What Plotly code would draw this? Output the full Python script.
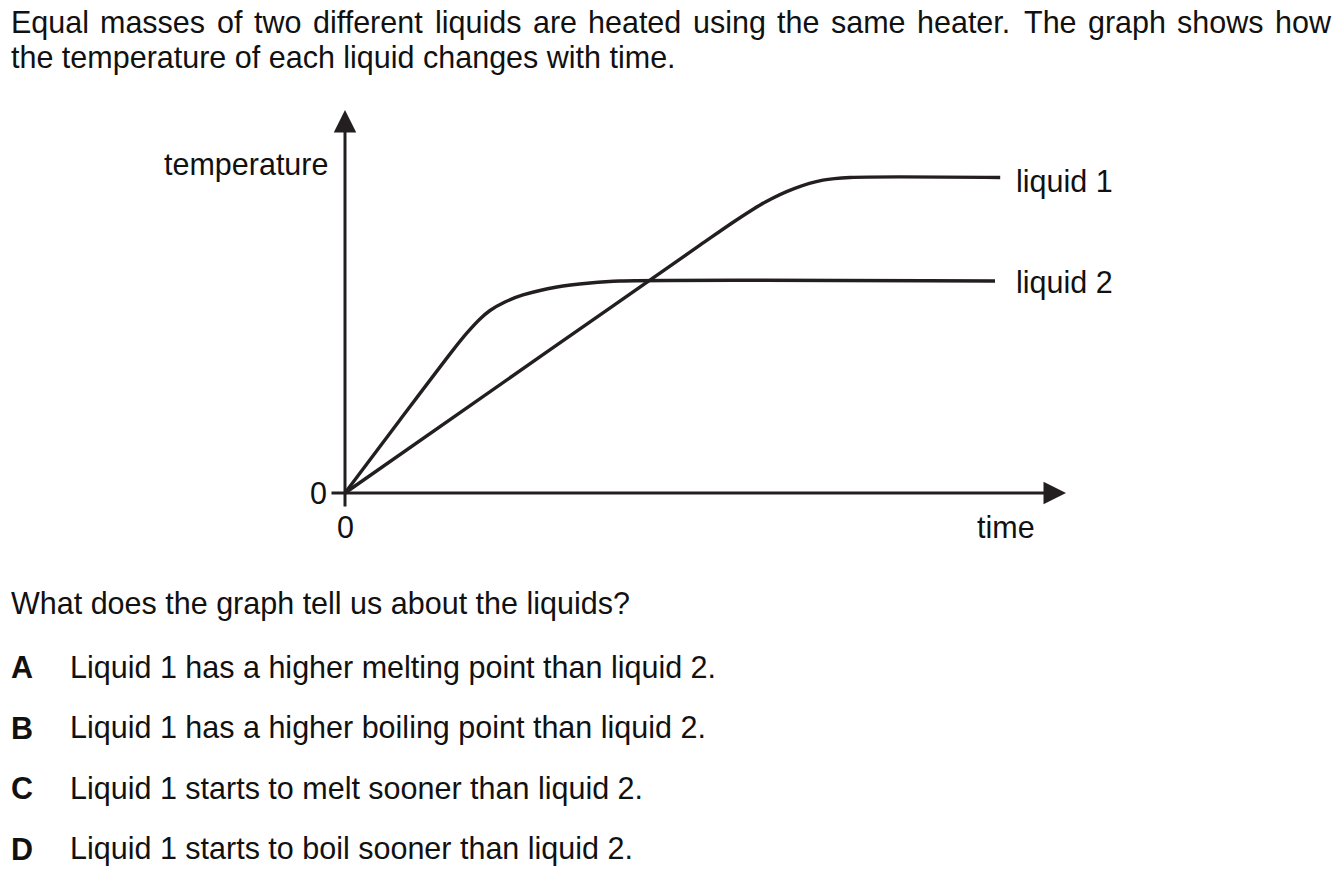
import plotly.graph_objects as go

# ---- data (time, temperature in arbitrary units) ----
liquid1_time = [0, 27.8, 49.3, 54.17, 58.39, 62.47, 66.38, 70.14, 91.0]
liquid1_temp = [0, 36.5, 64.7, 71.02, 75.98, 79.53, 81.67, 82.38, 82.38]
liquid2_time = [0, 7.6, 15.0, 16.94, 18.75, 20.14, 22.22, 24.72, 29.44, 34.03, 38.19, 90.28]
liquid2_temp = [0, 19.0, 37.3, 41.78, 45.43, 47.65, 49.87, 51.70, 53.79, 54.83, 55.35, 55.35]
series_labels = ["liquid 1", "liquid 2"]

question_lines = [
    "Equal masses of two different liquids are heated using the same heater. The graph shows how",
    "the temperature of each liquid changes with time.",
]
prompt = "What does the graph tell us about the liquids?"
option_letters = ["A", "B", "C", "D"]
option_texts = [
    "Liquid 1 has a higher melting point than liquid 2.",
    "Liquid 1 has a higher boiling point than liquid 2.",
    "Liquid 1 starts to melt sooner than liquid 2.",
    "Liquid 1 starts to boil sooner than liquid 2.",
]

# ---- layout geometry (page pixels) ----
OFF = 0
W, H = 1344, 876
X0, Y0 = 345, 493          # origin in page px
SX, SY = 7.2, 3.83         # px per data unit

def px2x(px):
    return (px - X0) / SX

def py2y(py):
    return (Y0 - py) / SY

def paper_x(px):
    return (px - OFF) / W

def paper_y(py):
    return 1 - (py - OFF) / H

INK = "#231f20"
FONT = "Liberation Sans, Arial, sans-serif"
FS = 30.5

# Arial / Liberation Sans advance widths (per 1000 em) for justification
ADV = {" ": 278, "E": 667, "T": 611, "a": 556, "b": 556, "c": 500, "d": 556, "e": 556,
       "f": 278, "g": 556, "h": 556, "i": 222, "l": 222, "m": 833, "n": 556, "o": 556,
       "p": 556, "q": 556, "r": 333, "s": 500, "t": 278, "u": 556, "w": 722, "y": 500,
       ".": 278}

def text_w(s, size):
    return sum(ADV.get(c, 556) for c in s) * size / 1000.0

fig = go.Figure()
fig.add_trace(go.Scatter(x=liquid1_time, y=liquid1_temp, mode="lines",
                         line=dict(color=INK, width=3.4, shape="spline", smoothing=0.8),
                         name=series_labels[0], hoverinfo="skip"))
fig.add_trace(go.Scatter(x=liquid2_time, y=liquid2_temp, mode="lines",
                         line=dict(color=INK, width=3.4, shape="spline", smoothing=0.8),
                         name=series_labels[1], hoverinfo="skip"))

ann = []
# axes with arrowheads
ann.append(dict(x=0, y=py2y(110), ax=0, ay=py2y(508), xref="x", yref="y", axref="x", ayref="y",
                text="", showarrow=True, arrowhead=2, arrowsize=1.5, arrowwidth=3, arrowcolor=INK))
ann.append(dict(x=px2x(1066), y=0, ax=px2x(330), ay=0, xref="x", yref="y", axref="x", ayref="y",
                text="", showarrow=True, arrowhead=2, arrowsize=1.5, arrowwidth=3, arrowcolor=INK))

def txt(s, x, y, xanchor="left", yanchor="middle", size=FS, ref="x"):
    return dict(text=s, x=x, y=y, xref=ref, yref=("y" if ref == "x" else "paper"),
                xanchor=xanchor, yanchor=yanchor, showarrow=False, borderpad=0,
                font=dict(family=FONT, size=size, color="#111"))

# chart labels
ann.append(txt("temperature", px2x(329), py2y(164), xanchor="right"))
ann.append(txt(series_labels[0], px2x(1015), py2y(181)))
ann.append(txt(series_labels[1], px2x(1015), py2y(282)))
ann.append(txt("time", px2x(1006), py2y(527), xanchor="center"))
ann.append(txt("0", px2x(328), py2y(493), xanchor="right"))
ann.append(txt("0", px2x(345), py2y(527), xanchor="center"))

# question text: first line justified between 10 and 1330 px
words = question_lines[0].split(" ")
total = sum(text_w(w, FS) for w in words)
gap = (1330 - 10 - total) / (len(words) - 1)
cx = 10.0
for w in words:
    ann.append(txt(w, paper_x(cx), paper_y(22), ref="paper"))
    cx += text_w(w, FS) + gap
ann.append(txt(question_lines[1], paper_x(10), paper_y(57), ref="paper"))
ann.append(txt(prompt, paper_x(10), paper_y(603), ref="paper"))
for i, (L, T) in enumerate(zip(option_letters, option_texts)):
    yy = 667 + i * 60.5
    ann.append(txt("<b>" + L + "</b>", paper_x(10), paper_y(yy), ref="paper"))
    ann.append(txt(T, paper_x(69), paper_y(yy), ref="paper"))

fig.update_layout(
    width=W, height=H, margin=dict(l=0, r=0, t=0, b=0),
    paper_bgcolor="white", plot_bgcolor="white", showlegend=False,
    xaxis=dict(range=[px2x(OFF), px2x(OFF + W)], visible=False, fixedrange=True),
    yaxis=dict(range=[py2y(OFF + H), py2y(OFF)], visible=False, fixedrange=True),
    annotations=ann,
)
fig.write_html("out.html", config={"displayModeBar": False},
               post_script="document.body.style.margin='0';document.body.style.overflow='hidden';")
